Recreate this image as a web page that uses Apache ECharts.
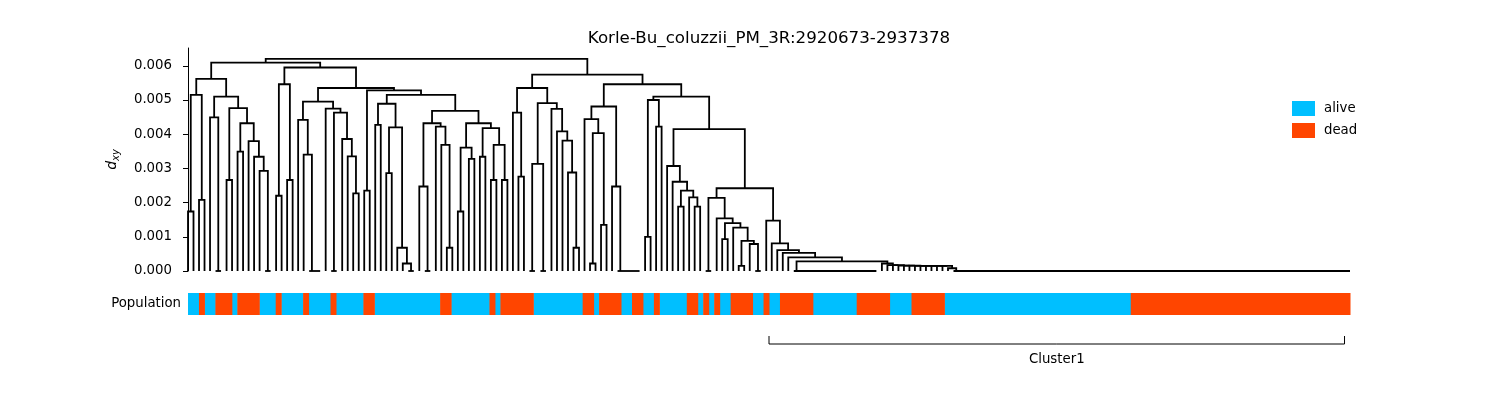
<!DOCTYPE html>
<html>
<head>
<meta charset="utf-8">
<script src="https://cdn.jsdelivr.net/npm/echarts@6/dist/echarts.min.js"></script>
<style>
  html, body { margin: 0; background: #fff; }
  #chart { width: 1500px; height: 400px; }
</style>
</head>
<body>
<div id="chart"></div>
<script>
// ---- data ----
const chartTitle = 'Korle-Bu_coluzzii_PM_3R:2920673-2937378';
const yTickLabels = ['0.000', '0.001', '0.002', '0.003', '0.004', '0.005', '0.006'];

// dendrogram, node = [height, left, right]; a plain number k = k leaves joined at distance 0
const cladeA = [0.00562,
  [0.00515, [0.00174, 1, 1], [0.00208, 1, 1]],
  [0.0051, [0.00449, 1, 2],
    [0.00476, [0.00266, 1, 1],
      [0.00432, [0.00349, 1, 1], [0.0038, 1, [0.00334, 1, [0.00293, 1, 2]]]]]]];
const cladeB1 = [0.00546, [0.0022, 1, 1], [0.00266, 1, 1]];
const cladeB2a = [0.00495,
  [0.00442, 1, [0.0034, 1, 3]],
  [0.00475, 1, [0.00463, 2, [0.00386, 1, [0.00335, 1, [0.00227, 1, 1]]]]]];
const cladeB2d = [0.00489, [0.00427, 1, 1], [0.0042, [0.00286, 1, 1], [0.00068, 1, [0.00022, 1, 2]]]];
const cladeB2f = [0.00432, [0.00247, 1, 2], [0.00422, 1, [0.00369, 1, [0.00068, 1, 1]]]];
const cladeB2g = [0.00432,
  [0.00361, [0.00174, 1, 1], [0.00328, 1, 1]],
  [0.00418, [0.00334, 1, 1], [0.00369, [0.00266, 1, 1], [0.00266, 1, 1]]]];
const cladeR1 = [0.00535,
  [0.00463, 1, [0.00276, 1, 1]],
  [0.00491, [0.00313, 2, 2], [0.00474, 1, [0.00408, 1, [0.00381, 1, [0.00288, 1, [0.00068, 1, 1]]]]]]];
const cladeR2a = [0.00481, [0.00444, 1, [0.00403, [0.00022, 1, 1], [0.00135, 1, 1]]], [0.00247, 1, 5]];
const cladeR2d = [0.00307, 1, [0.00261, 1, [0.00235, [0.00188, 1, 1], [0.00215, 1, [0.00188, 1, 1]]]]];
const cladeR2f = [0.00214, 2, [0.00154, 1, [0.0014, [0.00093, 1, 1],
  [0.00127, 1, [0.00088, [0.00015, 1, 1], [0.00079, 1, 2]]]]]];
const cladeComb = [0.00022, 1, [0.00017, 1, [0.00017, 1, [0.00016, 1, [0.00016, 1, [0.00016, 1,
  [0.00015, 1, [0.00015, 1, [0.00015, 1, [0.00015, 1, [0.00015, 1, [0.00015, 1, [0.00008, 1, 73]]]]]]]]]]]]];
const cladeR2g = [0.00147, 1, [0.00081, 1, [0.00061, 1, [0.00053, 1, [0.0004, 1, [0.00028, 16, cladeComb]]]]]];

const tree = [0.0062,
  [0.00609, cladeA,
    [0.00595, cladeB1,
      [0.00535, cladeB2a,
        [0.00528, [0.00235, 1, 1], [0.00515, cladeB2d, [0.00468, cladeB2f, cladeB2g]]]]]],
  [0.00574, cladeR1,
    [0.00546, cladeR2a,
      [0.0051, [0.005, [0.001, 1, 1], [0.00422, 1, 1]],
        [0.00415, cladeR2d, [0.00242, cladeR2f, cladeR2g]]]]]];

// population of each leaf, as runs from left to right
const popGroup = ['alive', 'dead', 'alive', 'dead', 'alive', 'dead', 'alive', 'dead', 'alive', 'dead',
  'alive', 'dead', 'alive', 'dead', 'alive', 'dead', 'alive', 'dead', 'alive', 'dead',
  'alive', 'dead', 'alive', 'dead', 'alive', 'dead', 'alive', 'dead', 'alive', 'dead',
  'alive', 'dead', 'alive', 'dead', 'alive', 'dead', 'alive', 'dead', 'alive', 'dead',
  'alive', 'dead', 'alive', 'dead', 'alive', 'dead'];
const popCount = [2, 1, 2, 3, 1, 4, 3, 1, 4, 1,
  4, 1, 5, 2, 12, 2, 7, 1, 1, 6,
  9, 2, 1, 4, 2, 2, 2, 1, 5, 2,
  1, 1, 1, 1, 2, 4, 2, 1, 2, 6,
  8, 6, 4, 6, 34, 40];
const popColors = { alive: '#00BFFF', dead: '#FF4500' };

const cluster1 = [106, 211];

// ---- layout of the tree (scipy style: leaf i at x = i) ----
let nextLeaf = 0;
const links = [];
function place(node) {
  if (typeof node === 'number') {
    const first = nextLeaf;
    nextLeaf += node;
    if (node > 1) links.push([first, 0, first, 0, first + node - 1, 0, first + node - 1, 0]);
    return { x: node > 1 ? first + 0.5 : first, h: 0 };
  }
  const a = place(node[1]);
  const b = place(node[2]);
  links.push([a.x, a.h, a.x, node[0], b.x, node[0], b.x, b.h]);
  return { x: (a.x + b.x) / 2, h: node[0] };
}
place(tree);
const nLeaves = nextLeaf;

const runs = { alive: [], dead: [] };
let start = 0;
popCount.forEach((c, i) => {
  runs[popGroup[i]].push([start, start + c]);
  start += c;
});

const font = 'DejaVu Sans, sans-serif';
const leftPx = 188, rightPx = 1350, spinePx = 181;
const leafStep = (rightPx - leftPx) / (nLeaves - 1);

function runSeries(name) {
  return {
    name: name,
    type: 'custom',
    xAxisIndex: 1,
    yAxisIndex: 1,
    itemStyle: { color: popColors[name] },
    data: runs[name],
    renderItem: function (params, api) {
      const p0 = api.coord([api.value(0), 'Population']);
      const p1 = api.coord([api.value(1), 'Population']);
      const bh = api.size([0, 1])[1];
      return {
        type: 'rect',
        shape: { x: p0[0], y: p0[1] - bh / 2, width: p1[0] - p0[0] + 0.5, height: bh },
        style: { fill: popColors[name] }
      };
    }
  };
}

const chart = echarts.init(document.getElementById('chart'));
chart.setOption({
  animation: false,
  backgroundColor: '#fff',
  title: {
    text: chartTitle,
    left: 764,
    top: 25,
    textAlign: 'center',
    textStyle: { fontFamily: font, fontSize: 16.7, fontWeight: 'normal', color: '#000' }
  },
  legend: {
    data: ['alive', 'dead'],
    orient: 'vertical',
    left: 1292,
    top: 101,
    padding: 0,
    itemWidth: 23,
    itemHeight: 15,
    itemGap: 7,
    icon: 'rect',
    textStyle: { fontFamily: font, fontSize: 13.3, color: '#000', padding: [0, 0, 0, 4] }
  },
  grid: [
    { left: spinePx, right: 1500 - rightPx, top: 48, bottom: 400 - 271 },
    { left: leftPx, right: 1500 - rightPx, top: 293, height: 22 },
    { left: leftPx, right: 1500 - rightPx, top: 336, height: 8 }
  ],
  xAxis: [
    { type: 'value', gridIndex: 0, min: -(leftPx - spinePx) / leafStep, max: nLeaves - 1, show: false },
    { type: 'value', gridIndex: 1, min: 0, max: nLeaves, show: false },
    { type: 'value', gridIndex: 2, min: 0, max: nLeaves, show: false }
  ],
  yAxis: [
    {
      type: 'value', gridIndex: 0, min: 0, max: 0.00652, interval: 0.001,
      splitLine: { show: false },
      axisLine: { show: true, lineStyle: { color: '#000', width: 1 } },
      axisTick: { show: true, length: 5, lineStyle: { color: '#000' } },
      axisLabel: {
        color: '#000', fontFamily: font, fontSize: 13.3, margin: 9, showMaxLabel: false,
        formatter: v => yTickLabels[Math.round(v * 1000)] || ''
      },
      name: '{d|d}{s|xy}',
      nameLocation: 'middle',
      nameRotate: 90,
      nameGap: 60,
      nameTextStyle: {
        rich: {
          d: { fontFamily: font, fontSize: 14, fontStyle: 'italic', color: '#000' },
          s: { fontFamily: font, fontSize: 10, fontStyle: 'italic', color: '#000', verticalAlign: 'bottom', padding: [7, 0, 0, 0] }
        }
      }
    },
    {
      type: 'category', gridIndex: 1, data: ['Population'],
      axisLine: { show: false }, axisTick: { show: false },
      axisLabel: { color: '#000', fontFamily: font, fontSize: 13.3, margin: 7 }
    },
    { type: 'value', gridIndex: 2, min: 0, max: 1, show: false }
  ],
  series: [
    {
      name: 'tree',
      type: 'custom',
      xAxisIndex: 0,
      yAxisIndex: 0,
      clip: false,
      data: links,
      renderItem: function (params, api) {
        const pts = [0, 1, 2, 3].map(i => api.coord([api.value(2 * i), api.value(2 * i + 1)]));
        return {
          type: 'polyline',
          shape: { points: pts },
          style: { stroke: '#000', lineWidth: 1.8, fill: null }
        };
      }
    },
    runSeries('alive'),
    runSeries('dead'),
    {
      name: 'cluster',
      type: 'custom',
      xAxisIndex: 2,
      yAxisIndex: 2,
      clip: false,
      data: [cluster1],
      renderItem: function (params, api) {
        const a = api.coord([api.value(0), 1]);
        const b = api.coord([api.value(1), 0]);
        return {
          type: 'group',
          children: [
            {
              type: 'polyline',
              shape: { points: [[a[0], a[1]], [a[0], b[1]], [b[0], b[1]], [b[0], a[1]]] },
              style: { stroke: '#000', lineWidth: 1, fill: null }
            },
            {
              type: 'text',
              style: {
                text: 'Cluster1', x: (a[0] + b[0]) / 2, y: b[1] + 16,
                align: 'center', verticalAlign: 'middle',
                fontFamily: font, fontSize: 13.3, fill: '#000'
              }
            }
          ]
        };
      }
    }
  ]
});
</script>
</body>
</html>
